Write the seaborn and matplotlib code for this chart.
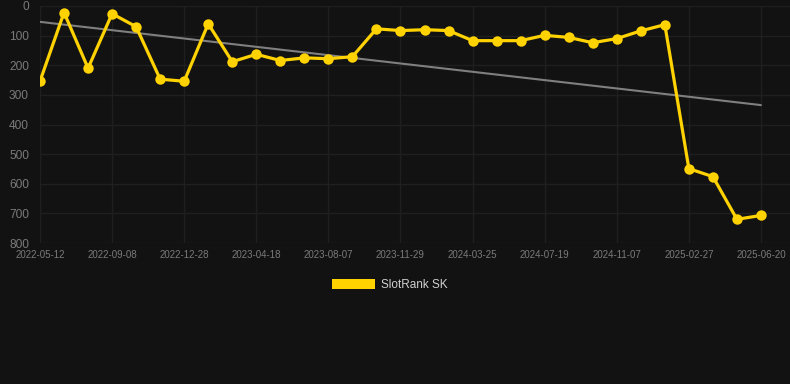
import numpy as np
import pandas as pd
import matplotlib
matplotlib.use("Agg")
import matplotlib.pyplot as plt
import seaborn as sns
from matplotlib.patches import Patch

# ---- data ----
tick_labels = ["2022-05-12", "2022-09-08", "2022-12-28", "2023-04-18", "2023-08-07",
               "2023-11-29", "2024-03-25", "2024-07-19", "2024-11-07", "2025-02-27",
               "2025-06-20"]
rank_values = [254, 22, 210, 26, 70, 247, 254, 60, 188, 163, 184, 175, 178, 171, 77,
               83, 80, 83, 117, 117, 117, 99, 106, 124, 110, 84, 63, 549, 576, 720, 707]
series_name = "SlotRank SK"

# ---- style ----
BG = "#121212"
GRID = "#1f1f1f"
TICK = "#7a7a7a"
YELLOW = "#FFD200"
TREND = "#7f7f7f"

sns.set_theme(style="dark")
plt.rcParams["font.family"] = ["Liberation Sans", "DejaVu Sans"]

df = pd.DataFrame({"idx": np.arange(len(rank_values)), "rank": rank_values})

fig = plt.figure(figsize=(7.9, 3.84), dpi=100, facecolor=BG)
ax = fig.add_axes([40 / 790, 1 - 243 / 384, 750 / 790, 237 / 384])
ax.set_facecolor(BG)

# trend line (least squares)
coef = np.polyfit(df["idx"], df["rank"], 1)
trend = np.polyval(coef, df["idx"])
sns.lineplot(x=df["idx"], y=trend, ax=ax, color=TREND, linewidth=1.5, zorder=2)

sns.lineplot(data=df, x="idx", y="rank", ax=ax, color=YELLOW, linewidth=2.3,
             marker="o", markersize=7.5, markeredgewidth=0, zorder=3)

ax.set_ylim(800, 0)
ax.set_xlim(0, len(rank_values) - 1 + 29 / 24)
ax.set_yticks(np.arange(0, 801, 100))
ax.set_xticks(np.arange(0, len(rank_values), 3))
ax.set_xticklabels(tick_labels)
ax.set_xlabel("")
ax.set_ylabel("")

ax.grid(True, color=GRID, linewidth=1.0)
ax.set_axisbelow(True)
for s in ax.spines.values():
    s.set_visible(False)
ax.tick_params(axis="y", colors=TICK, labelsize=8.6, pad=8, length=0)
ax.tick_params(axis="x", colors=TICK, labelsize=7, pad=5, length=0)

handle = Patch(facecolor=YELLOW, edgecolor="none")
leg = fig.legend([handle], [series_name], loc="center", bbox_to_anchor=(390 / 790, 1 - 285 / 384),
                 frameon=False, fontsize=8.5, handlelength=3.6, handleheight=0.9,
                 handletextpad=0.5)
for t in leg.get_texts():
    t.set_color("#d0d0d0")

fig.savefig("out.png", dpi=100, facecolor=BG)
